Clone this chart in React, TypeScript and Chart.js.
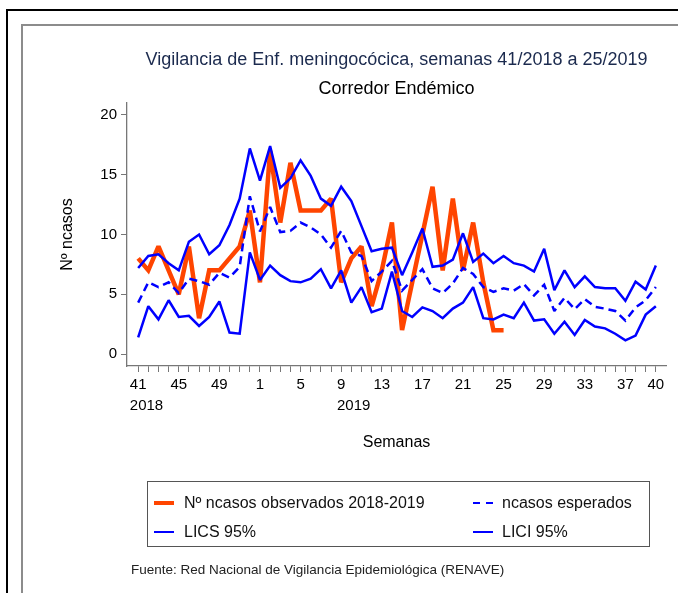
import React, { useEffect, useRef } from 'react';
import { Chart, registerables } from 'chart.js';

Chart.register(...registerables);

// ---- data ----
const weeks = [41, 42, 43, 44, 45, 46, 47, 48, 49, 50, 51, 52, 1, 2, 3, 4, 5, 6, 7, 8, 9, 10, 11, 12, 13, 14, 15, 16, 17, 18, 19, 20, 21, 22, 23, 24, 25, 26, 27, 28, 29, 30, 31, 32, 33, 34, 35, 36, 37, 38, 39, 40];
const tickWeeks = [41, 45, 49, 1, 5, 9, 13, 17, 21, 25, 29, 33, 37, 40];
const yearWeeks = [41, 9];
const yearNames = ['2018', '2019'];
const yTicks = [0, 5, 10, 15, 20];

const observed = [8, 7, 9, 7, 5, 9, 3, 7, 7, 8, 9, 12, 6, 17, 11, 16, 12, 12, 12, 13, 6, 8, 9, 4, 7, 11, 2, 6, 10, 14, 7, 13, 7, 11, 6, 2, 2];
const expected = [4.3, 6.0, 5.6, 6.0, 5.1, 6.3, 6.1, 5.8, 6.8, 6.4, 7.3, 13.2, 10.25, 12.3, 10.2, 10.3, 11.0, 10.6, 10.0, 8.9, 10.3, 8.5, 8.2, 6.1, 6.9, 7.8, 5.3, 6.2, 7.1, 5.5, 5.1, 5.9, 7.2, 6.7, 5.6, 5.2, 5.5, 5.3, 5.85, 4.9, 5.8, 3.6, 4.7, 3.75, 4.6, 3.95, 3.8, 3.6, 2.8, 3.9, 4.5, 5.6];
const lics = [7.2, 8.2, 8.35, 7.6, 7.0, 9.4, 10.0, 8.35, 9.1, 10.8, 13.0, 17.2, 14.5, 17.4, 13.9, 14.7, 16.2, 14.9, 13.0, 12.4, 14.0, 12.8, 10.7, 8.6, 8.8, 8.9, 6.6, 8.5, 10.5, 7.3, 7.4, 7.9, 10.1, 7.7, 8.4, 7.6, 8.2, 7.6, 7.4, 6.9, 8.8, 5.35, 7.0, 5.6, 6.5, 5.6, 5.5, 5.5, 4.45, 6.05, 5.4, 7.4];
const lici = [1.4, 4.0, 2.9, 4.5, 3.1, 3.2, 2.35, 3.1, 4.4, 1.8, 1.7, 8.5, 6.2, 7.4, 6.6, 6.1, 6.0, 6.3, 7.1, 5.5, 7.0, 4.3, 5.6, 3.5, 3.8, 6.9, 3.6, 3.1, 3.9, 3.6, 3.0, 3.8, 4.3, 5.6, 3.0, 2.9, 3.3, 3.0, 4.3, 2.8, 2.9, 1.7, 2.7, 1.6, 2.85, 2.3, 2.15, 1.7, 1.15, 1.55, 3.3, 4.0];

const seriesLabels = ['Nº ncasos observados 2018-2019', 'ncasos esperados', 'LICS 95%', 'LICI 95%'];
const TITLE = 'Vigilancia de Enf. meningocócica, semanas 41/2018 a 25/2019';
const SUBTITLE = 'Corredor Endémico';
const X_TITLE = 'Semanas';
const Y_TITLE = 'Nº ncasos';
const SOURCE = 'Fuente: Red Nacional de Vigilancia Epidemiológica (RENAVE)';

// ---- styles ----
const FONT = "'Liberation Sans', Arial, sans-serif";
const ORANGE = '#ff4500';
const BLUE = '#0000ff';
const AXIS = '#777777';

const toPts = (arr: number[]) => arr.map((v, i) => ({ x: i, y: v }));

const xLabel = (i: number): string | string[] => {
  const w = weeks[i];
  if (w === undefined || tickWeeks.indexOf(w) < 0) return '';
  const yi = yearWeeks.indexOf(w);
  if (yi >= 0) {
    const wl = String(w);
    const yl = yearNames[yi];
    const pad = ' '.repeat((yl.length - wl.length) * 2);
    return [wl, pad + yl];
  }
  return String(w);
};

const miterPlugin = {
  id: 'miterLimit',
  beforeDatasetsDraw(chart: any) {
    chart.ctx.miterLimit = 2;
  },
};

export default function App() {
  const ref = useRef<HTMLCanvasElement>(null);

  useEffect(() => {
    if (!ref.current) return;
    const chart = new Chart(ref.current, {
      type: 'line',
      data: {
        datasets: [
          { label: seriesLabels[0], data: toPts(observed), borderColor: ORANGE, backgroundColor: ORANGE, borderWidth: 4.5, order: 4 },
          { label: seriesLabels[1], data: toPts(expected), borderColor: BLUE, backgroundColor: BLUE, borderWidth: 2.5, borderDash: [8, 5], order: 3 },
          { label: seriesLabels[2], data: toPts(lics), borderColor: BLUE, backgroundColor: BLUE, borderWidth: 2.5, order: 2 },
          { label: seriesLabels[3], data: toPts(lici), borderColor: BLUE, backgroundColor: BLUE, borderWidth: 2.5, order: 1 },
        ],
      },
      plugins: [miterPlugin],
      options: {
        responsive: false,
        animation: false,
        events: [],
        layout: { padding: { top: 40, right: 12, bottom: 0, left: 0 } },
        elements: {
          point: { radius: 0 },
          line: { tension: 0, borderJoinStyle: 'miter', fill: false },
        },
        plugins: {
          legend: { display: false },
          tooltip: { enabled: false },
          title: {
            display: true,
            text: TITLE,
            fullSize: false,
            color: '#1b2a4e',
            font: { family: FONT, size: 18, weight: 'normal', lineHeight: 1.2 },
            padding: { top: 9, bottom: 0 },
          },
          subtitle: {
            display: true,
            text: SUBTITLE,
            fullSize: false,
            color: '#000000',
            font: { family: FONT, size: 18, weight: 'normal', lineHeight: 1.2 },
            padding: { top: 7.4, bottom: 3.4 },
          },
        },
        scales: {
          x: {
            type: 'linear',
            min: -1.1,
            max: 52,
            bounds: 'data',
            afterBuildTicks: (s: any) => {
              s.ticks = weeks.map((_, i) => ({ value: i }));
            },
            afterFit: (s: any) => {
              s.height = 227;
            },
            ticks: {
              autoSkip: false,
              maxRotation: 0,
              minRotation: 0,
              padding: 3,
              color: '#000000',
              font: { family: FONT, size: 15, lineHeight: 1.37 },
              callback: (v: any) => xLabel(Math.round(Number(v))),
            },
            grid: { drawOnChartArea: false, drawTicks: true, tickLength: 6, tickColor: AXIS, tickWidth: 1 },
            border: { display: true, color: AXIS, width: 1.3 },
            title: {
              display: true,
              text: X_TITLE,
              color: '#000000',
              font: { family: FONT, size: 16, lineHeight: 1.2 },
              padding: { top: 0, bottom: 140.4 },
            },
          },
          y: {
            type: 'linear',
            min: -1,
            max: 21,
            bounds: 'data',
            afterBuildTicks: (s: any) => {
              s.ticks = yTicks.map((v) => ({ value: v }));
            },
            afterFit: (s: any) => {
              s.width = 127;
            },
            ticks: {
              padding: 4,
              color: '#000000',
              font: { family: FONT, size: 15, lineHeight: 1.2 },
              callback: (v: any) => String(v),
            },
            grid: { drawOnChartArea: false, drawTicks: true, tickLength: 6, tickColor: AXIS, tickWidth: 1 },
            border: { display: true, color: AXIS, width: 1.3 },
            title: {
              display: true,
              text: Y_TITLE,
              color: '#000000',
              font: { family: FONT, size: 16, lineHeight: 1.2 },
              padding: { top: 58, bottom: 0 },
            },
          },
        },
      },
    } as any);
    return () => chart.destroy();
  }, []);

  const legendItems = [
    { label: seriesLabels[0], kind: 'solid', color: ORANGE, thick: 4.5, col: 0, row: 0 },
    { label: seriesLabels[1], kind: 'dash', color: BLUE, thick: 2.5, col: 1, row: 0 },
    { label: seriesLabels[2], kind: 'solid', color: BLUE, thick: 2.5, col: 0, row: 1 },
    { label: seriesLabels[3], kind: 'solid', color: BLUE, thick: 2.5, col: 1, row: 1 },
  ];
  const colSwatchX = [6, 325];
  const colTextX = [36, 354];
  const rowY = [21, 50];

  return (
    <div style={{ position: 'absolute', left: 0, top: 0, width: 678, height: 593, background: '#ffffff', overflow: 'hidden', fontFamily: FONT }}>
      <div style={{ position: 'absolute', left: 6, top: 9, width: 800, height: 800, borderLeft: '2px solid #000', borderTop: '2px solid #000' }} />
      <div style={{ position: 'absolute', left: 21, top: 24, width: 800, height: 800, borderLeft: '2px solid #8c8c8c', borderTop: '2px solid #8c8c8c' }} />
      <canvas ref={ref} width={678} height={593} style={{ position: 'absolute', left: 0, top: 0, width: 678, height: 593 }} />
      <div style={{ position: 'absolute', left: 147, top: 481, width: 503, height: 66, border: '1px solid #555', boxSizing: 'border-box' }}>
        {legendItems.map((it, k) => (
          <React.Fragment key={k}>
            <div
              style={{
                position: 'absolute',
                left: colSwatchX[it.col],
                top: rowY[it.row] - it.thick / 2,
                width: 20,
                height: it.thick,
                background:
                  it.kind === 'dash'
                    ? `repeating-linear-gradient(90deg, ${it.color} 0px, ${it.color} 7px, transparent 7px, transparent 13px)`
                    : it.color,
              }}
            />
            <div
              style={{
                position: 'absolute',
                left: colTextX[it.col],
                top: rowY[it.row] - 10,
                lineHeight: '20px',
                fontSize: 16,
                color: '#111',
                whiteSpace: 'nowrap',
              }}
            >
              {it.label}
            </div>
          </React.Fragment>
        ))}
      </div>
      <div style={{ position: 'absolute', left: 131, top: 560, lineHeight: '20px', fontSize: 13.5, color: '#222', whiteSpace: 'nowrap' }}>
        {SOURCE}
      </div>
    </div>
  );
}
